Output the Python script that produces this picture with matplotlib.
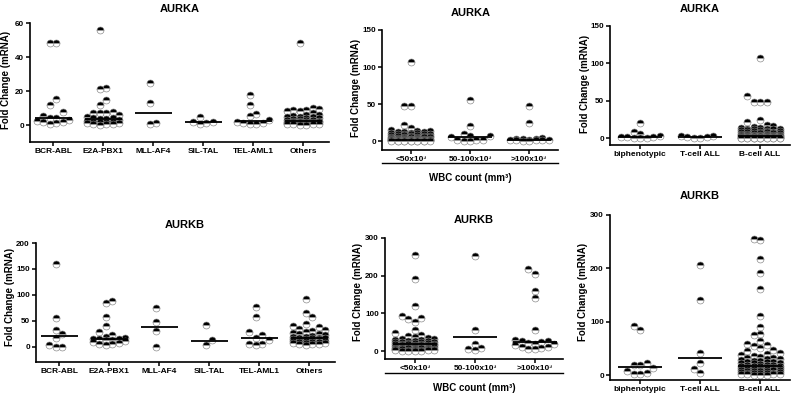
import numpy as np
import matplotlib
matplotlib.use('Agg')
import matplotlib.pyplot as plt
from matplotlib.lines import Line2D

plt.rcParams['font.family'] = ['Liberation Sans', 'DejaVu Sans']
plt.rcParams['font.weight'] = 'bold'

W, H = 792, 396

# ---------------- data ----------------
subtype_labels = ['BCR-ABL', 'E2A-PBX1', 'MLL-AF4', 'SIL-TAL', 'TEL-AML1', 'Others']
wbc_labels = ['<50x10³', '50-100x10³', '>100x10³']
pheno_labels = ['biphenotypic', 'T-cell ALL', 'B-cell ALL']

aurka_bcr_abl = [48, 48, 15.5, 12, 7.5, 5.5, 4, 4, 3, 2.5, 2, 2, 1, 0.3]
aurka_e2a_pbx1 = [56, 22, 21, 15, 11.5, 7.5, 7, 7, 7, 6, 5, 4, 4, 3.5, 3.5, 3, 2.5, 2, 2,
                  1.5, 1.5, 1, 1, 0.5, 0.5, 0.3, 0.2]
aurka_mll_af4 = [25, 13, 1.2, 0.3]
aurka_sil_tal = [4.5, 2, 1.8, 1.2, 0.5]
aurka_tel_aml1 = [17.5, 11.5, 6.5, 5.5, 3, 2, 1, 1, 0.7, 0.5]
aurka_others = [48, 10, 9.5, 9, 9, 8.5, 8, 7, 6, 6, 5.5, 5, 5, 4.5, 4, 4, 3.5, 3.5, 3, 3, 3,
                2.5, 2.5, 2.5, 2, 2, 2, 2, 1.5, 1.5, 1.5, 1.5, 1, 1, 1, 1, 1, 0.5, 0.5, 0.5,
                0.5, 0.3, 0.3, 0.2, 0.2]
aurka_subtype_median = [4, 3.5, 7, 1.8, 2.5, 2.2]

aurka_wbc_lt50 = [107, 48, 47, 22, 18, 15, 13, 13, 12.5, 12, 12, 11.5, 11, 10.5, 10, 10, 9.5,
                  9, 9, 8.5, 8, 8, 7.5, 7, 7, 6.5, 6, 6, 5.5, 5, 5, 5, 4.5, 4, 4, 4, 3.5, 3.5,
                  3, 3, 3, 2.5, 2.5, 2.5, 2, 2, 2, 2, 1.8, 1.6, 1.5, 1.5, 1.3, 1.2, 1, 1, 1,
                  0.9, 0.8, 0.7, 0.6, 0.5, 0.5, 0.4, 0.3, 0.3, 0.2, 0.2, 0.1, 0.1]
aurka_wbc_50_100 = [56, 20, 9, 7, 6.5, 6, 2, 1.5, 1, 0.5, 0.8]
aurka_wbc_gt100 = [48, 25, 4, 3.5, 3, 2.5, 2, 2, 1.5, 1.5, 1, 1, 0.5, 0.3]
aurka_wbc_median = [2, 6, 2]

aurka_biphenotypic = [20, 8.5, 6, 2.5, 2, 2, 1.5, 1, 1, 0.8]
aurka_tcell = [3.5, 2.5, 2, 1.5, 1, 0.5]
aurka_bcell = [107, 56, 48, 48, 48, 25, 22, 18, 16, 15, 14, 14, 13, 13, 12.5, 12, 12, 11.5,
               11, 10.5, 10, 10, 9.5, 9, 9, 8.5, 8, 8, 7.5, 7, 7, 6.5, 6, 6, 5.5, 5, 5, 5,
               4.5, 4, 4, 4, 3.5, 3.5, 3.5, 3, 3, 3, 2.5, 2.5, 2.5, 2, 2, 2, 2, 1.8, 1.6,
               1.5, 1.5, 1.3, 1.2, 1, 1, 1, 0.9, 0.8, 0.7, 0.6, 0.5, 0.5, 0.4, 0.3, 0.3,
               0.2, 0.2, 0.1, 0.1]
aurka_pheno_median = [2, 2, 3]

aurkb_bcr_abl = [160, 55, 32, 25, 18, 4, 0.5, 0.3]
aurkb_e2a_pbx1 = [88, 85, 57, 40, 28, 22, 20, 17, 16, 15, 15, 14, 13, 12, 10, 8, 5, 5, 4]
aurkb_mll_af4 = [75, 48, 30, 0.5]
aurkb_sil_tal = [42, 13, 4]
aurkb_tel_aml1 = [77, 57, 28, 22, 18, 13, 5, 5, 4]
aurkb_others = [92, 65, 57, 45, 40, 38, 35, 33, 30, 28, 27, 25, 24, 22, 21, 20, 19, 18, 18,
                17, 17, 16, 15, 15, 14, 13, 12, 12, 11, 10, 10, 9, 8, 8, 7, 6, 5, 5, 4]
aurkb_subtype_median = [21, 15, 39, 12, 18, 17]

aurkb_wbc_lt50 = [255, 192, 120, 92, 88, 85, 77, 57, 47, 42, 40, 38, 35, 33, 32, 30, 30, 28,
                  27, 26, 25, 25, 24, 23, 22, 22, 21, 20, 20, 19, 18, 18, 17, 16, 16, 15, 15,
                  14, 13, 13, 12, 12, 11, 10, 10, 9, 9, 8, 8, 7, 7, 6, 6, 5, 5, 5, 4, 4, 3, 3,
                  2, 2, 1, 1, 0.5, 0.5]
aurkb_wbc_50_100 = [253, 55, 20, 9, 6, 2]
aurkb_wbc_gt100 = [218, 205, 160, 142, 56, 30, 28, 26, 24, 22, 20, 18, 15, 12, 10, 8, 6, 5]
aurkb_wbc_median = [20, 37, 23]

aurkb_biphenotypic = [92, 85, 22, 20, 19, 14, 7, 5, 3, 2]
aurkb_tcell = [207, 140, 42, 23, 12, 5]
aurkb_bcell = [255, 253, 218, 192, 162, 110, 90, 77, 75, 64, 58, 57, 55, 50, 47, 45, 42, 40,
               38, 36, 35, 33, 32, 30, 30, 28, 27, 26, 25, 25, 24, 23, 22, 22, 21, 20, 20, 19,
               18, 18, 17, 17, 16, 15, 15, 14, 14, 13, 13, 12, 12, 11, 11, 10, 10, 9, 9, 8, 8,
               7, 7, 6, 6, 5, 5, 5, 4, 4, 3, 3, 2, 2, 1, 1, 0.5]
aurkb_pheno_median = [16, 33, 18]

fig = plt.figure(figsize=(W / 100, H / 100), dpi=100)

D = 6.5  # marker spacing in pixels
HALF = 0.37


def swarm_offsets(ypx, xc, hw):
    """Greedy column layout (pixel space) for values sorted ascending."""
    maxcols = int(2 * hw / D) + 1
    half = (maxcols - 1) / 2
    if maxcols % 2 == 1:
        cols = [0.0]
        for k in range(1, int(half) + 1):
            cols += [-k, k]
    else:
        cols = []
        for k in range(int(half + 0.5)):
            cols += [-(k + 0.5), k + 0.5]
    last = {c: -1e9 for c in cols}
    xpx = np.zeros(len(ypx))
    for idx, y in enumerate(ypx):
        chosen = None
        for c in cols:
            if y - last[c] >= D:
                chosen = c
                break
        if chosen is None:
            chosen = min(cols, key=lambda c: last[c])
        last[chosen] = y
        xpx[idx] = xc + chosen * D
    return xpx


def draw_panel(box, ylim, xlim, yticks, labels, groups, medians, title, title_px, ylab_px,
               wbc=None):
    x0, yt, x1, yb = box
    ax = fig.add_axes([x0 / W, 1 - yb / H, (x1 - x0) / W, (yb - yt) / H])
    ax.set_xlim(*xlim)
    ax.set_ylim(*ylim)
    ax.set_facecolor('none')
    for s in ['top', 'right']:
        ax.spines[s].set_visible(False)
    for s in ['left', 'bottom']:
        ax.spines[s].set_linewidth(1.2)
    ax.set_yticks(yticks)
    ax.set_yticklabels([str(t) for t in yticks], fontsize=5.8, fontweight='bold')
    ax.set_xticks(range(len(labels)))
    ax.set_xticklabels(labels, fontsize=6, fontweight='bold')
    ax.tick_params(axis='both', direction='out', length=3, width=1.1, pad=1.5)

    z = 2.0
    for i, vals in enumerate(groups):
        v = np.sort(np.asarray(vals, float))
        disp = ax.transData.transform(np.column_stack([np.full(len(v), float(i)), v]))
        ypx = disp[:, 1]
        xc = disp[0, 0]
        hw = ax.transData.transform((i + HALF, 0))[0] - xc
        xpx = swarm_offsets(ypx, xc, hw)
        pts = ax.transData.inverted().transform(np.column_stack([xpx, ypx]))
        # draw highest first so lower markers sit on top (one artist per marker)
        for xv, yv in zip(pts[::-1, 0], pts[::-1, 1]):
            ax.plot([xv], [yv], linestyle='none', marker='o', ms=5.0, fillstyle='top',
                    markerfacecolor='black', markerfacecoloralt='white',
                    markeredgecolor='#808080', markeredgewidth=0.45, clip_on=False,
                    zorder=z)
            z += 0.0001
        ax.plot([i - HALF, i + HALF], [medians[i], medians[i]], color='black', lw=1.3,
                zorder=3, solid_capstyle='butt')

    fig.text(title_px[0] / W, 1 - title_px[1] / H, title, ha='center', va='center',
             fontsize=8, fontweight='bold')
    fig.text(ylab_px[0] / W, 1 - ylab_px[1] / H, 'Fold Change (mRNA)', rotation=90,
             ha='center', va='center', fontsize=7, fontweight='bold')
    if wbc is not None:
        line_px, lab_px = wbc
        frac = line_px / (yb - yt)
        ax.add_line(Line2D([0, 1], [-frac, -frac], transform=ax.transAxes, color='black',
                           lw=1.0, clip_on=False))
        fig.text((x0 + x1) / 2 / W, 1 - lab_px / H, 'WBC count (mm³)', ha='center',
                 va='center', fontsize=7, fontweight='bold')
    return ax


draw_panel((30, 23, 329, 142), (-10, 60), (-0.46, 5.52), [0, 20, 40, 60], subtype_labels,
           [aurka_bcr_abl, aurka_e2a_pbx1, aurka_mll_af4, aurka_sil_tal, aurka_tel_aml1,
            aurka_others], aurka_subtype_median, 'AURKA', (180, 9), (6, 80))

draw_panel((382, 30, 558, 150), (-12, 150), (-0.49, 2.49), [0, 50, 100, 150], wbc_labels,
           [aurka_wbc_lt50, aurka_wbc_50_100, aurka_wbc_gt100], aurka_wbc_median,
           'AURKA', (471, 13), (356, 88), wbc=(13, 178))

draw_panel((610, 26, 790, 145), (-9, 150), (-0.5, 2.5), [0, 50, 100, 150], pheno_labels,
           [aurka_biphenotypic, aurka_tcell, aurka_bcell], aurka_pheno_median,
           'AURKA', (700, 9), (585, 84))

draw_panel((36, 243, 335, 362), (-29, 200), (-0.46, 5.52), [0, 50, 100, 150, 200],
           subtype_labels,
           [aurkb_bcr_abl, aurkb_e2a_pbx1, aurkb_mll_af4, aurkb_sil_tal, aurkb_tel_aml1,
            aurkb_others], aurkb_subtype_median, 'AURKB', (185, 225), (10, 297))

draw_panel((385, 238, 563, 359), (-21, 300), (-0.5, 2.47), [0, 100, 200, 300], wbc_labels,
           [aurkb_wbc_lt50, aurkb_wbc_50_100, aurkb_wbc_gt100], aurkb_wbc_median,
           'AURKB', (474, 220), (358, 292), wbc=(14, 388))

draw_panel((610, 215, 790, 380), (-9, 300), (-0.5, 2.5), [0, 100, 200, 300], pheno_labels,
           [aurkb_biphenotypic, aurkb_tcell, aurkb_bcell], aurkb_pheno_median,
           'AURKB', (700, 196), (583, 292))

fig.savefig('out.png', dpi=100)
